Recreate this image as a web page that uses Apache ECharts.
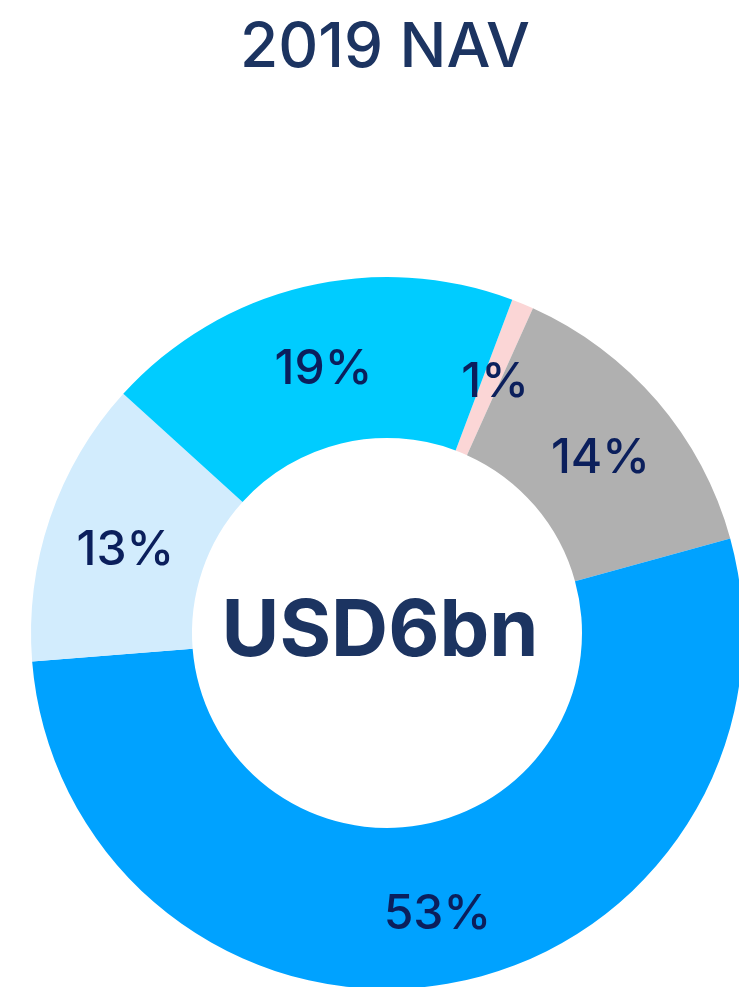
<!DOCTYPE html>
<html>
<head>
<meta charset="utf-8">
<style>
  html, body { margin: 0; padding: 0; background: #fff; }
  #chart { width: 739px; height: 987px; }
</style>
<script src="https://cdn.jsdelivr.net/npm/echarts@6/dist/echarts.min.js"></script>
</head>
<body>
<div id="chart"></div>
<script>
// 数据
const categories = ['Other', 'Grey', 'Blue', 'Light blue', 'Cyan'];
const shares = [1, 14, 53, 13, 19];
const colors = ['#fbd6d6', '#b0b0b0', '#00a2ff', '#d2ecfd', '#00ccff'];
const titleText = '2019 NAV';
const centerText = 'USD6bn';

const chart = echarts.init(document.getElementById('chart'));
chart.setOption({
  animation: false,
  title: {
    text: titleText,
    left: 380,
    textAlign: 'center',
    top: 12,
    textStyle: {
      color: '#1c3461',
      fontFamily: 'Inter',
      fontWeight: 500,
      fontSize: 62
    }
  },
  graphic: [{
    type: 'text',
    style: {
      text: centerText,
      x: 380,
      y: 632,
      align: 'center',
      verticalAlign: 'middle',
      fill: '#1c3461',
      font: 'bold 79px Inter'
    }
  }],
  series: [{
    type: 'pie',
    center: [387, 633],
    radius: [195, 356],
    startAngle: 69.4,
    clockwise: true,
    label: {
      position: 'inside',
      formatter: '{c}%',
      offset: [2, 7],
      color: '#0b1f5c',
      fontFamily: 'Inter',
      fontWeight: 500,
      fontSize: 48
    },
    labelLine: { show: false },
    emphasis: { disabled: true },
    data: categories.map((name, i) => ({
      name,
      value: shares[i],
      itemStyle: { color: colors[i] }
    }))
  }]
});
</script>
</body>
</html>
